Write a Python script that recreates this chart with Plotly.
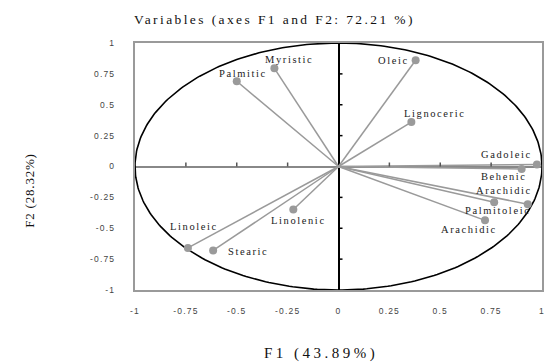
import numpy as np
import plotly.graph_objects as go

# ---- data ----
variables = ["Myristic", "Palmitic", "Oleic", "Lignoceric", "Gadoleic", "Behenic",
             "Arachidic", "Palmitoleic", "Arachidic", "Linolenic", "Linoleic", "Stearic"]
f1 = [-0.315, -0.50, 0.379, 0.358, 0.975, 0.90, 0.93, 0.765, 0.72, -0.222, -0.74, -0.616]
f2 = [0.795, 0.69, 0.86, 0.36, 0.016, -0.02, -0.305, -0.29, -0.436, -0.348, -0.659, -0.68]
tick_vals = [-1, -0.75, -0.5, -0.25, 0, 0.25, 0.5, 0.75, 1]
tick_text = ["-1", "-0.75", "-0.5", "-0.25", "0", "0.25", "0.5", "0.75", "1"]
title_text = "Variables (axes F1 and F2: 72.21 %)"
x_title = "F1 (43.89%)"
y_title = "F2 (28.32%)"

# ---- styles: label offsets in screen pixels (dx right, dy down) ----
label_dx = [15, 6, -22, 23, -30, -18, -24, 3, -16, 5, 6, 35]
label_dy = [-9, -8, 0, -9, -10, 8, -14, 8, 9, 11, -21, 1]
GRAY = "#9a9a9a"
SERIF = "Liberation Serif, Times New Roman, serif"
SANS = "Liberation Sans, Arial, sans-serif"


def spaced(s, px):
    return '<span style="letter-spacing:%.1fpx">%s</span>' % (px, s)


W, H = 549, 363
L, R, T, B = 135, 4, 43, 73

fig = go.Figure()

# unit circle
th = np.linspace(0, 2 * np.pi, 361)
fig.add_trace(go.Scatter(x=np.cos(th), y=np.sin(th), mode="lines",
                         line=dict(color="black", width=1.6), hoverinfo="skip", showlegend=False))

# vectors from origin
lx, ly = [], []
for a, b in zip(f1, f2):
    lx += [0, a, None]
    ly += [0, b, None]
fig.add_trace(go.Scatter(x=lx, y=ly, mode="lines", line=dict(color=GRAY, width=1.5),
                         hoverinfo="skip", showlegend=False))

# points
fig.add_trace(go.Scatter(x=f1, y=f2, mode="markers", text=variables,
                         marker=dict(color=GRAY, size=8), showlegend=False))

# labels
for name, a, b, dx, dy in zip(variables, f1, f2, label_dx, label_dy):
    fig.add_annotation(x=a, y=b, xref="x", yref="y", text=spaced(name, 1.6), showarrow=False,
                       xanchor="center", yanchor="middle", xshift=dx, yshift=-dy,
                       font=dict(family=SERIF, size=10.5, color="#222"))

# tick marks on the zero axes
inner = [t for t in tick_vals if t not in (0, -1, 1)]
for t in inner:
    fig.add_shape(type="line", xref="x", yref="y", xsizemode="pixel", xanchor=0,
                  x0=0, x1=4, y0=t, y1=t, line=dict(color="black", width=1.5))
    fig.add_shape(type="line", xref="x", yref="y", ysizemode="pixel", yanchor=0,
                  y0=0, y1=4, x0=t, x1=t, line=dict(color="#555", width=1.5))

axis_common = dict(range=[-1, 1], tickmode="array", tickvals=tick_vals,
                   ticktext=[spaced(t, 1.2) for t in tick_text],
                   showgrid=False, showline=True, mirror=True, linecolor=GRAY, linewidth=2,
                   ticks="", tickfont=dict(family=SANS, size=8.5, color="#444"), zeroline=True,
                   zerolinewidth=2)

fig.update_layout(
    width=W, height=H, margin=dict(l=L, r=R, t=T, b=B),
    paper_bgcolor="white", plot_bgcolor="white",
    title=dict(text=spaced(title_text, 2.4), x=0.5, xref="container", xanchor="center",
               y=1 - 19 / H, yref="container", yanchor="middle",
               font=dict(family=SERIF, size=13.5, color="#111")),
    xaxis=dict(**axis_common, zerolinecolor="black", ticklabelstandoff=12),
    yaxis=dict(**axis_common, zerolinecolor="#888", ticklabelstandoff=16),
    showlegend=False,
)

pw, ph = W - L - R, H - T - B
fig.add_annotation(text=spaced(x_title, 3.5), xref="paper", yref="paper",
                   x=(322 - L) / pw, y=-(353 - (H - B)) / ph, showarrow=False,
                   xanchor="center", yanchor="middle",
                   font=dict(family=SERIF, size=15, color="#111"))
fig.add_annotation(text=spaced(y_title, 0.8), xref="paper", yref="paper", textangle=-90,
                   x=(28 - L) / pw, y=((H - B) - 190) / ph, showarrow=False,
                   xanchor="center", yanchor="middle",
                   font=dict(family=SERIF, size=13, color="#111"))

fig.write_html("out.html")
